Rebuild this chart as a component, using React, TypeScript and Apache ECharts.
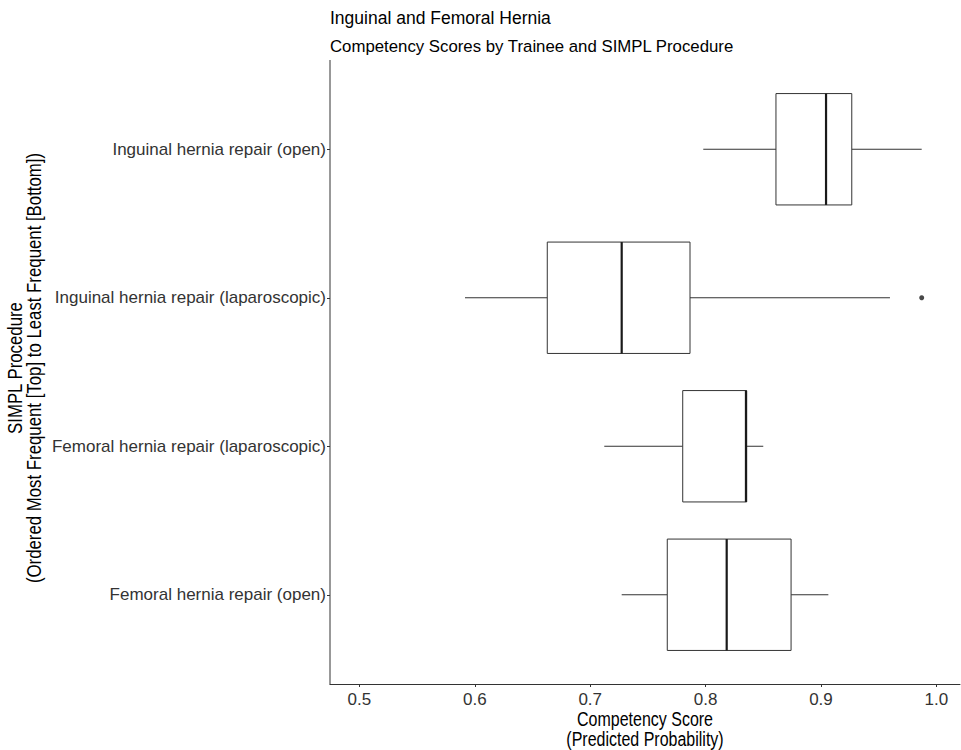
import React, { useEffect, useRef } from "react";
import * as echarts from "echarts";

const categories = [
  "Inguinal hernia repair (open)",
  "Inguinal hernia repair (laparoscopic)",
  "Femoral hernia repair (laparoscopic)",
  "Femoral hernia repair (open)",
];
const whiskerLow = [0.798, 0.5915, 0.7122, 0.7273];
const quartile1 = [0.861, 0.6628, 0.7802, 0.7668];
const medians = [0.9044, 0.7273, 0.835, 0.8183];
const quartile3 = [0.9267, 0.7865, 0.8356, 0.8741];
const whiskerHigh = [0.9873, 0.9598, 0.85, 0.9064];
const outlierCategories = ["Inguinal hernia repair (laparoscopic)"];
const outlierValues = [0.9873];
const xTicks = [0.5, 0.6, 0.7, 0.8, 0.9, 1.0];

const FONT = "'Liberation Sans', Arial, sans-serif";

export default function App() {
  const ref = useRef<HTMLDivElement>(null);

  useEffect(() => {
    document.body.style.margin = "0";
    if (!ref.current) return;
    const chart = echarts.init(ref.current, null, { renderer: "svg" });

    const boxData = categories.map((_, i) => [
      i,
      whiskerLow[i],
      quartile1[i],
      medians[i],
      quartile3[i],
      whiskerHigh[i],
    ]);
    const outlierData = outlierValues.map((v, i) => [
      v,
      categories.indexOf(outlierCategories[i]),
    ]);

    const stroke = "#333333";

    chart.setOption({
      animation: false,
      textStyle: { fontFamily: FONT },
      title: [
        {
          text: "Inguinal and Femoral Hernia",
          left: 330,
          top: 9,
          padding: 0,
          textStyle: { fontSize: 17.5, fontWeight: "normal", color: "#000", fontFamily: FONT },
        },
        {
          text: "Competency Scores by Trainee and SIMPL Procedure",
          left: 330,
          top: 37.5,
          padding: 0,
          textStyle: { fontSize: 16.8, fontWeight: "normal", color: "#000", fontFamily: FONT },
        },
      ],
      grid: { left: 330, right: 1, top: 75, bottom: 81, containLabel: false },
      xAxis: {
        type: "value",
        min: 0.4745,
        max: 1.0205,
        offset: 15,
        splitLine: { show: false },
        axisLine: { show: true, lineStyle: { color: stroke, width: 1 } },
        axisTick: {
          show: true,
          length: 3,
          customValues: xTicks,
          lineStyle: { color: stroke, width: 1 },
        },
        axisLabel: {
          customValues: xTicks,
          formatter: (v: number) => v.toFixed(1),
          fontSize: 17,
          color: "#333333",
          margin: 7,
          fontFamily: FONT,
        },
      },
      yAxis: {
        type: "category",
        data: categories,
        inverse: true,
        boundaryGap: true,
        axisLine: { show: false },
        axisTick: {
          show: true,
          alignWithLabel: true,
          length: 3,
          lineStyle: { color: stroke, width: 1 },
        },
        axisLabel: { fontSize: 17, color: "#333333", margin: 4, fontFamily: FONT },
        splitLine: { show: false },
      },
      graphic: [
        {
          type: "line",
          shape: { x1: 330, y1: 60, x2: 330, y2: 684.5 },
          style: { stroke: stroke, lineWidth: 1 },
          silent: true,
        },
        {
          type: "text",
          x: 645,
          y: 729,
          scaleX: 0.82,
          style: {
            text: "Competency Score\n(Predicted Probability)",
            fontSize: 19.5,
            lineHeight: 20,
            fontFamily: FONT,
            fill: "#000",
            textAlign: "center",
            textVerticalAlign: "middle",
          },
          silent: true,
        },
        {
          type: "text",
          x: 24,
          y: 368,
          rotation: Math.PI / 2,
          scaleX: 0.84,
          style: {
            text: "SIMPL Procedure\n(Ordered Most Frequent [Top] to Least Frequent [Bottom])",
            fontSize: 20,
            lineHeight: 19,
            fontFamily: FONT,
            fill: "#000",
            textAlign: "center",
            textVerticalAlign: "middle",
          },
          silent: true,
        },
      ],
      series: [
        {
          type: "custom",
          data: boxData,
          encode: { x: [1, 2, 3, 4, 5], y: 0 },
          renderItem: (params: any, api: any) => {
            const ci = api.value(0);
            const pLo = api.coord([api.value(1), ci]);
            const pQ1 = api.coord([api.value(2), ci]);
            const pMed = api.coord([api.value(3), ci]);
            const pQ3 = api.coord([api.value(4), ci]);
            const pHi = api.coord([api.value(5), ci]);
            const band = api.size([0, 1])[1];
            const h = band * 0.75;
            const y = pMed[1];
            return {
              type: "group",
              children: [
                {
                  type: "line",
                  shape: { x1: pLo[0], y1: y, x2: pQ1[0], y2: y },
                  style: { stroke, lineWidth: 1 },
                },
                {
                  type: "line",
                  shape: { x1: pQ3[0], y1: y, x2: pHi[0], y2: y },
                  style: { stroke, lineWidth: 1 },
                },
                {
                  type: "rect",
                  shape: { x: pQ1[0], y: y - h / 2, width: pQ3[0] - pQ1[0], height: h },
                  style: { fill: "#ffffff", stroke, lineWidth: 1 },
                },
                {
                  type: "line",
                  shape: { x1: pMed[0], y1: y - h / 2, x2: pMed[0], y2: y + h / 2 },
                  style: { stroke: "#1a1a1a", lineWidth: 2.2 },
                },
              ],
            };
          },
          z: 2,
        },
        {
          type: "scatter",
          data: outlierData,
          symbol: "circle",
          symbolSize: 5,
          itemStyle: { color: "#1a1a1a" },
          z: 3,
        },
      ],
    });

    return () => chart.dispose();
  }, []);

  return <div ref={ref} style={{ width: 961, height: 750 }} />;
}
